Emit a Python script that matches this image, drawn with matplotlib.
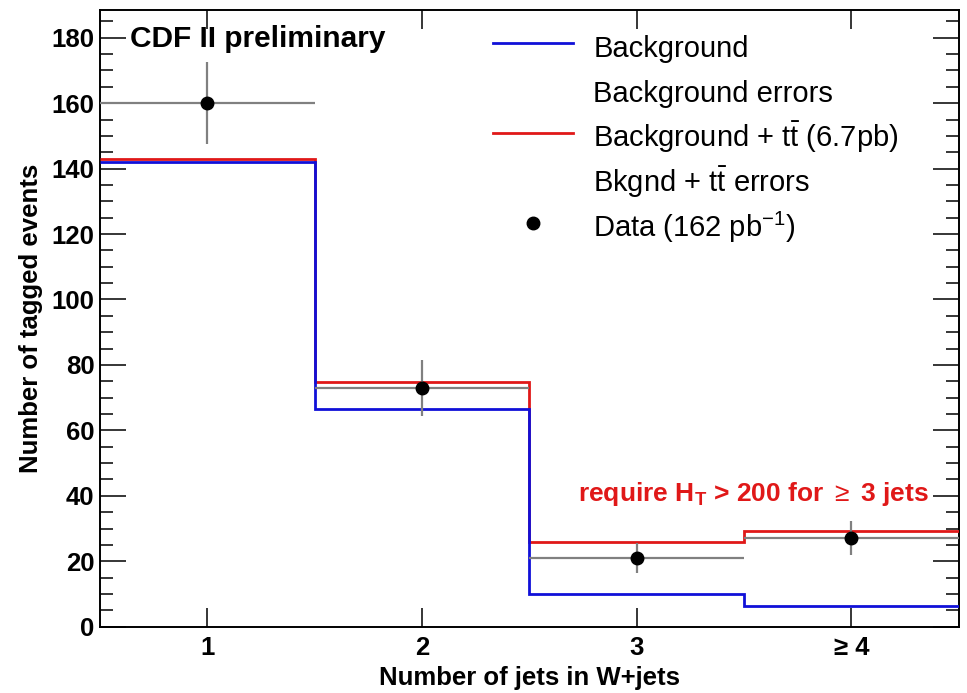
import matplotlib
matplotlib.use('Agg')
import matplotlib.pyplot as plt
from matplotlib.lines import Line2D
from matplotlib.ticker import MultipleLocator
import numpy as np

# jet multiplicity bins
edges = [0.5, 1.5, 2.5, 3.5, 4.5]
njets = [1, 2, 3, 4]
xlabels = ['1', '2', '3', '\u2265 4']

bkg = [142, 66.4, 10.1, 6.4]
bkg_tt = [143, 74.7, 25.8, 29.2]
data = [160, 73, 21, 27]
data_err = [12.6, 8.5, 4.6, 5.2]

plt.rcParams['font.family'] = ['Liberation Sans', 'DejaVu Sans']
plt.rcParams['mathtext.fontset'] = 'custom'
plt.rcParams['mathtext.rm'] = 'Liberation Sans'
plt.rcParams['mathtext.it'] = 'Liberation Sans:italic'
plt.rcParams['mathtext.bf'] = 'Liberation Sans:bold'

fig = plt.figure(figsize=(9.67, 6.93), dpi=100)
ax = fig.add_axes([0.1034, 0.0957, 0.8880, 0.8900])

blue = '#1010d8'
red = '#e01818'
grey = '#808080'

ax.stairs(bkg_tt, edges, color=red, lw=2.0, baseline=None, zorder=3)
ax.stairs(bkg, edges, color=blue, lw=2.0, baseline=None, zorder=3)
ax.errorbar(njets, data, xerr=0.5, yerr=data_err, fmt='none',
            ecolor=grey, elinewidth=1.6, capsize=0, zorder=4)
ax.plot(njets, data, 'o', color='black', ms=9, zorder=5)

ax.set_xlim(0.5, 4.5)
ax.set_ylim(0, 188.5)
ax.set_xticks(njets)
ax.set_xticklabels(xlabels)
ax.yaxis.set_major_locator(MultipleLocator(20))
ax.yaxis.set_minor_locator(MultipleLocator(5))

for s in ax.spines.values():
    s.set_linewidth(1.4)
ax.tick_params(axis='y', which='major', direction='in', length=19, width=1.1,
               left=True, right=True, labelsize=18.5, pad=4)
ax.tick_params(axis='y', which='minor', direction='in', length=9.5, width=1.1,
               left=True, right=True)
ax.tick_params(axis='x', which='major', direction='in', length=14, width=1.1,
               top=True, bottom=True, labelsize=18.5, pad=7)
for lab in ax.get_yticklabels() + ax.get_xticklabels():
    lab.set_fontweight('bold')

ax.set_xlabel('Number of jets in W+jets', fontsize=18.5, fontweight='bold', labelpad=4)
ax.set_ylabel('Number of tagged events', fontsize=18.5, fontweight='bold', labelpad=6)

ax.text(0.035, 0.975, 'CDF II preliminary', transform=ax.transAxes,
        fontsize=21.5, fontweight='bold', va='top', ha='left')
ax.text(0.965, 0.215, r'require $\mathbf{H_T}$ > 200 for $\geq$ 3 jets',
        transform=ax.transAxes, fontsize=19, fontweight='bold', color=red,
        ha='right', va='center')

blank = Line2D([], [], color='none')
handles = [Line2D([], [], color=blue, lw=2.0), blank,
           Line2D([], [], color=red, lw=2.0), blank,
           Line2D([], [], color='black', marker='o', ls='none', ms=9)]
labels = ['Background', 'Background errors',
          r'Background + $\mathrm{t\bar{t}}$ (6.7pb)',
          r'Bkgnd + $\mathrm{t\bar{t}}$ errors',
          r'Data (162 pb$^{\mathrm{-1}}$)']
ax.legend(handles, labels, loc='upper left', bbox_to_anchor=(0.458, 0.968),
          frameon=False, fontsize=21, handlelength=2.75, handletextpad=0.68,
          handleheight=1.5, labelspacing=0.32, borderpad=0, borderaxespad=0)

fig.savefig('out.png', dpi=100)
